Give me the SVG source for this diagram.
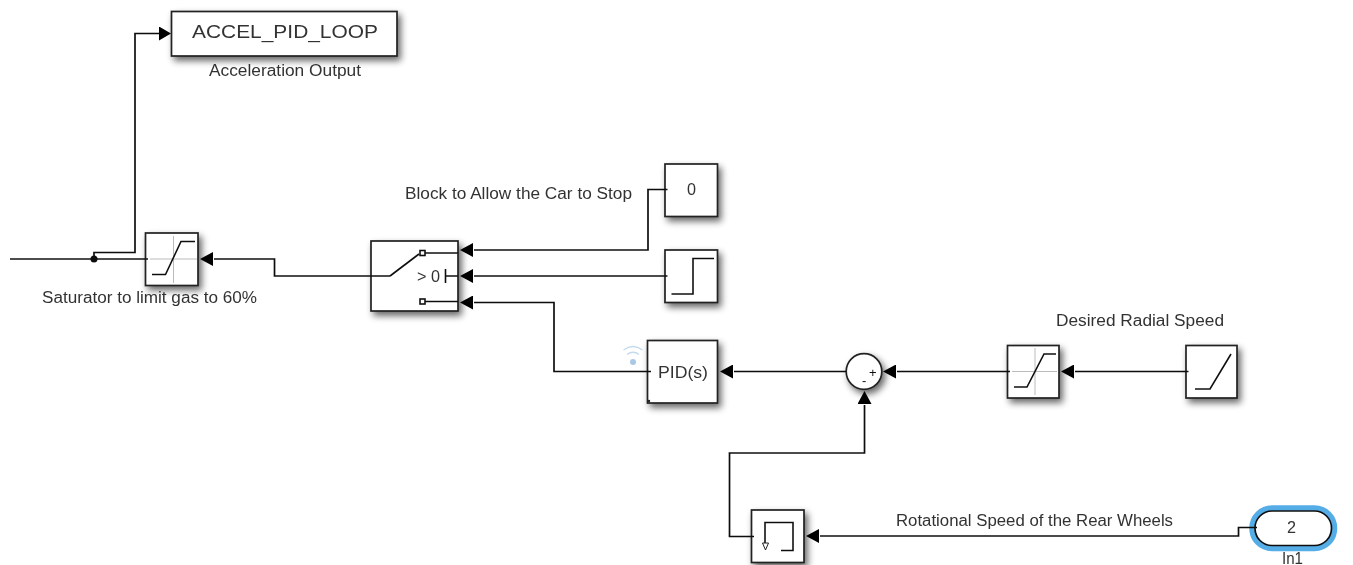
<svg xmlns="http://www.w3.org/2000/svg" width="1353" height="565" viewBox="0 0 1353 565">
<defs>
<filter id="shadow" x="-30%" y="-30%" width="170%" height="170%"><feGaussianBlur in="SourceAlpha" stdDeviation="3.500"/><feOffset dx="3" dy="4"/><feComponentTransfer><feFuncA type="linear" slope="0.6"/></feComponentTransfer><feMerge><feMergeNode/><feMergeNode in="SourceGraphic"/></feMerge></filter>
<filter id="soft" x="-2%" y="-2%" width="104%" height="104%"><feGaussianBlur stdDeviation="0.55"/></filter>
<marker id="arrow" markerUnits="userSpaceOnUse" markerWidth="15" markerHeight="14" refX="0" refY="7" orient="auto"><path d="M1 0L14 7L1 14Z" fill="#000"/></marker>
<marker id="arrow0" markerUnits="userSpaceOnUse" markerWidth="15" markerHeight="14" refX="0" refY="7" orient="auto"><path d="M0 0L12 7L0 14Z" fill="#000"/></marker>
</defs>
<style>
text{font-family:"Liberation Sans",Arial,sans-serif;font-size:16px;fill:#333;}
.box{fill:#fff;stroke:#222;stroke-width:1.700;filter:url(#shadow);}
.w{fill:none;stroke:#111;stroke-width:1.700;}
.g{fill:none;stroke:#111;stroke-width:1.600;}
.ax{fill:none;stroke:#bbb;stroke-width:1;}
</style>
<rect width="1353" height="565" fill="#fff"/>
<g filter="url(#soft)">
<g id="ACCEL_PID_LOOP"><rect class="box" x="171.500" y="11.500" width="225.500" height="44.500"/><text x="192" y="38" style="font-size:19px" textLength="186" lengthAdjust="spacingAndGlyphs">ACCEL_PID_LOOP</text><text x="209" y="76" textLength="152" lengthAdjust="spacingAndGlyphs">Acceleration Output</text></g>
<g id="Saturator"><rect class="box" x="145.500" y="233" width="52.500" height="52.500"/><path class="ax" d="M150 259H197M173.500 236V283"/><path class="g" d="M152 274.500H165.500L181 241.500H195"/><text x="42" y="303" textLength="215" lengthAdjust="spacingAndGlyphs">Saturator to limit gas to 60%</text></g>
<g id="Switch"><rect class="box" x="371" y="241" width="87" height="70"/><path class="g" d="M390 276L419 254"/><rect class="g" x="420" y="250.500" width="5" height="5" fill="#fff"/><rect class="g" x="420" y="299" width="5" height="5" fill="#fff"/><path class="g" d="M425 253H458M425 301.500H458M445.500 269V283M445.500 276H458"/><text x="417" y="282" textLength="23" lengthAdjust="spacingAndGlyphs">&gt; 0</text></g>
<g id="Constant"><rect class="box" x="665" y="164" width="52.500" height="52.500"/><text x="687" y="195" textLength="9" lengthAdjust="spacingAndGlyphs">0</text></g>
<g id="Step"><rect class="box" x="665" y="250" width="52.500" height="52.500"/><path class="g" d="M671.500 294H693V258.500H714"/></g>
<g id="PID"><rect class="box" x="647.500" y="340.500" width="70" height="62.500"/><text x="658" y="378" textLength="50" lengthAdjust="spacingAndGlyphs">PID(s)</text><circle cx="633" cy="362" r="3" fill="#a9c8e6"/><path d="M627 354.500Q633 350 639 354.500M623.500 350Q633 343 642.500 350" fill="none" stroke="#c4d9ee" stroke-width="1.300"/><circle cx="649" cy="401" r="1.200" fill="#222"/></g>
<g id="Sum"><circle class="box" cx="864" cy="371.500" r="17.800"/><text x="869" y="376.500" style="font-size:13px;fill:#111">+</text><text x="862" y="385" style="font-size:13px;fill:#111">-</text></g>
<g id="Saturation"><rect class="box" x="1007.500" y="345.500" width="51.500" height="52.500"/><path class="ax" d="M1012 371.500H1057M1035 348V395"/><path class="g" d="M1014 387H1027L1044 354H1056"/></g>
<g id="Ramp"><rect class="box" x="1186" y="345.500" width="51" height="52.500"/><path class="g" d="M1195 389H1210L1231 354"/><text x="1056" y="326" textLength="168" lengthAdjust="spacingAndGlyphs">Desired Radial Speed</text></g>
<g id="Memory"><rect class="box" x="751.500" y="510" width="52.500" height="52.500"/><path class="g" d="M781 550.500H793V522.500H765V543"/><path d="M762.500 543H768.500L765.500 550Z" fill="#fff" stroke="#222"/></g>
<g id="In1"><rect x="1255" y="511" width="76.500" height="34.500" rx="17" fill="none" stroke="#55ade8" stroke-width="11.500"/><rect x="1255" y="511" width="76.500" height="34.500" rx="17" fill="#fff" stroke="#111" stroke-width="1.700"/><text x="1287" y="533" textLength="9" lengthAdjust="spacingAndGlyphs">2</text><text x="1282" y="564" textLength="21" lengthAdjust="spacingAndGlyphs">In1</text></g>
<g id="connectors">
<path class="w" d="M10 259H148"/>
<circle cx="94" cy="259" r="3.500" fill="#111"/>
<path class="w" d="M94 259V252.500H135V33.500H159" marker-end="url(#arrow0)"/>
<path class="w" d="M390 276H274.500V259H214" marker-end="url(#arrow)"/>
<path class="w" d="M667.500 189.500H648V250H474" marker-end="url(#arrow)"/>
<path class="w" d="M667.500 276H474" marker-end="url(#arrow)"/>
<path class="w" d="M651 371.500H554V302.500H474" marker-end="url(#arrow)"/>
<path class="w" d="M846 371.500H734" marker-end="url(#arrow)"/>
<path class="w" d="M1010 371.500H897" marker-end="url(#arrow)"/>
<path class="w" d="M1188.500 371.500H1075" marker-end="url(#arrow)"/>
<path class="w" d="M754 536.500H729.500V453H864.500V405" marker-end="url(#arrow)"/>
<path class="w" d="M1257 527.500H1238.500V536H820" marker-end="url(#arrow)"/>
<text x="405" y="199" textLength="227" lengthAdjust="spacingAndGlyphs">Block to Allow the Car to Stop</text>
<text x="896" y="526" textLength="277" lengthAdjust="spacingAndGlyphs">Rotational Speed of the Rear Wheels</text>
</g>
</g>
</svg>
